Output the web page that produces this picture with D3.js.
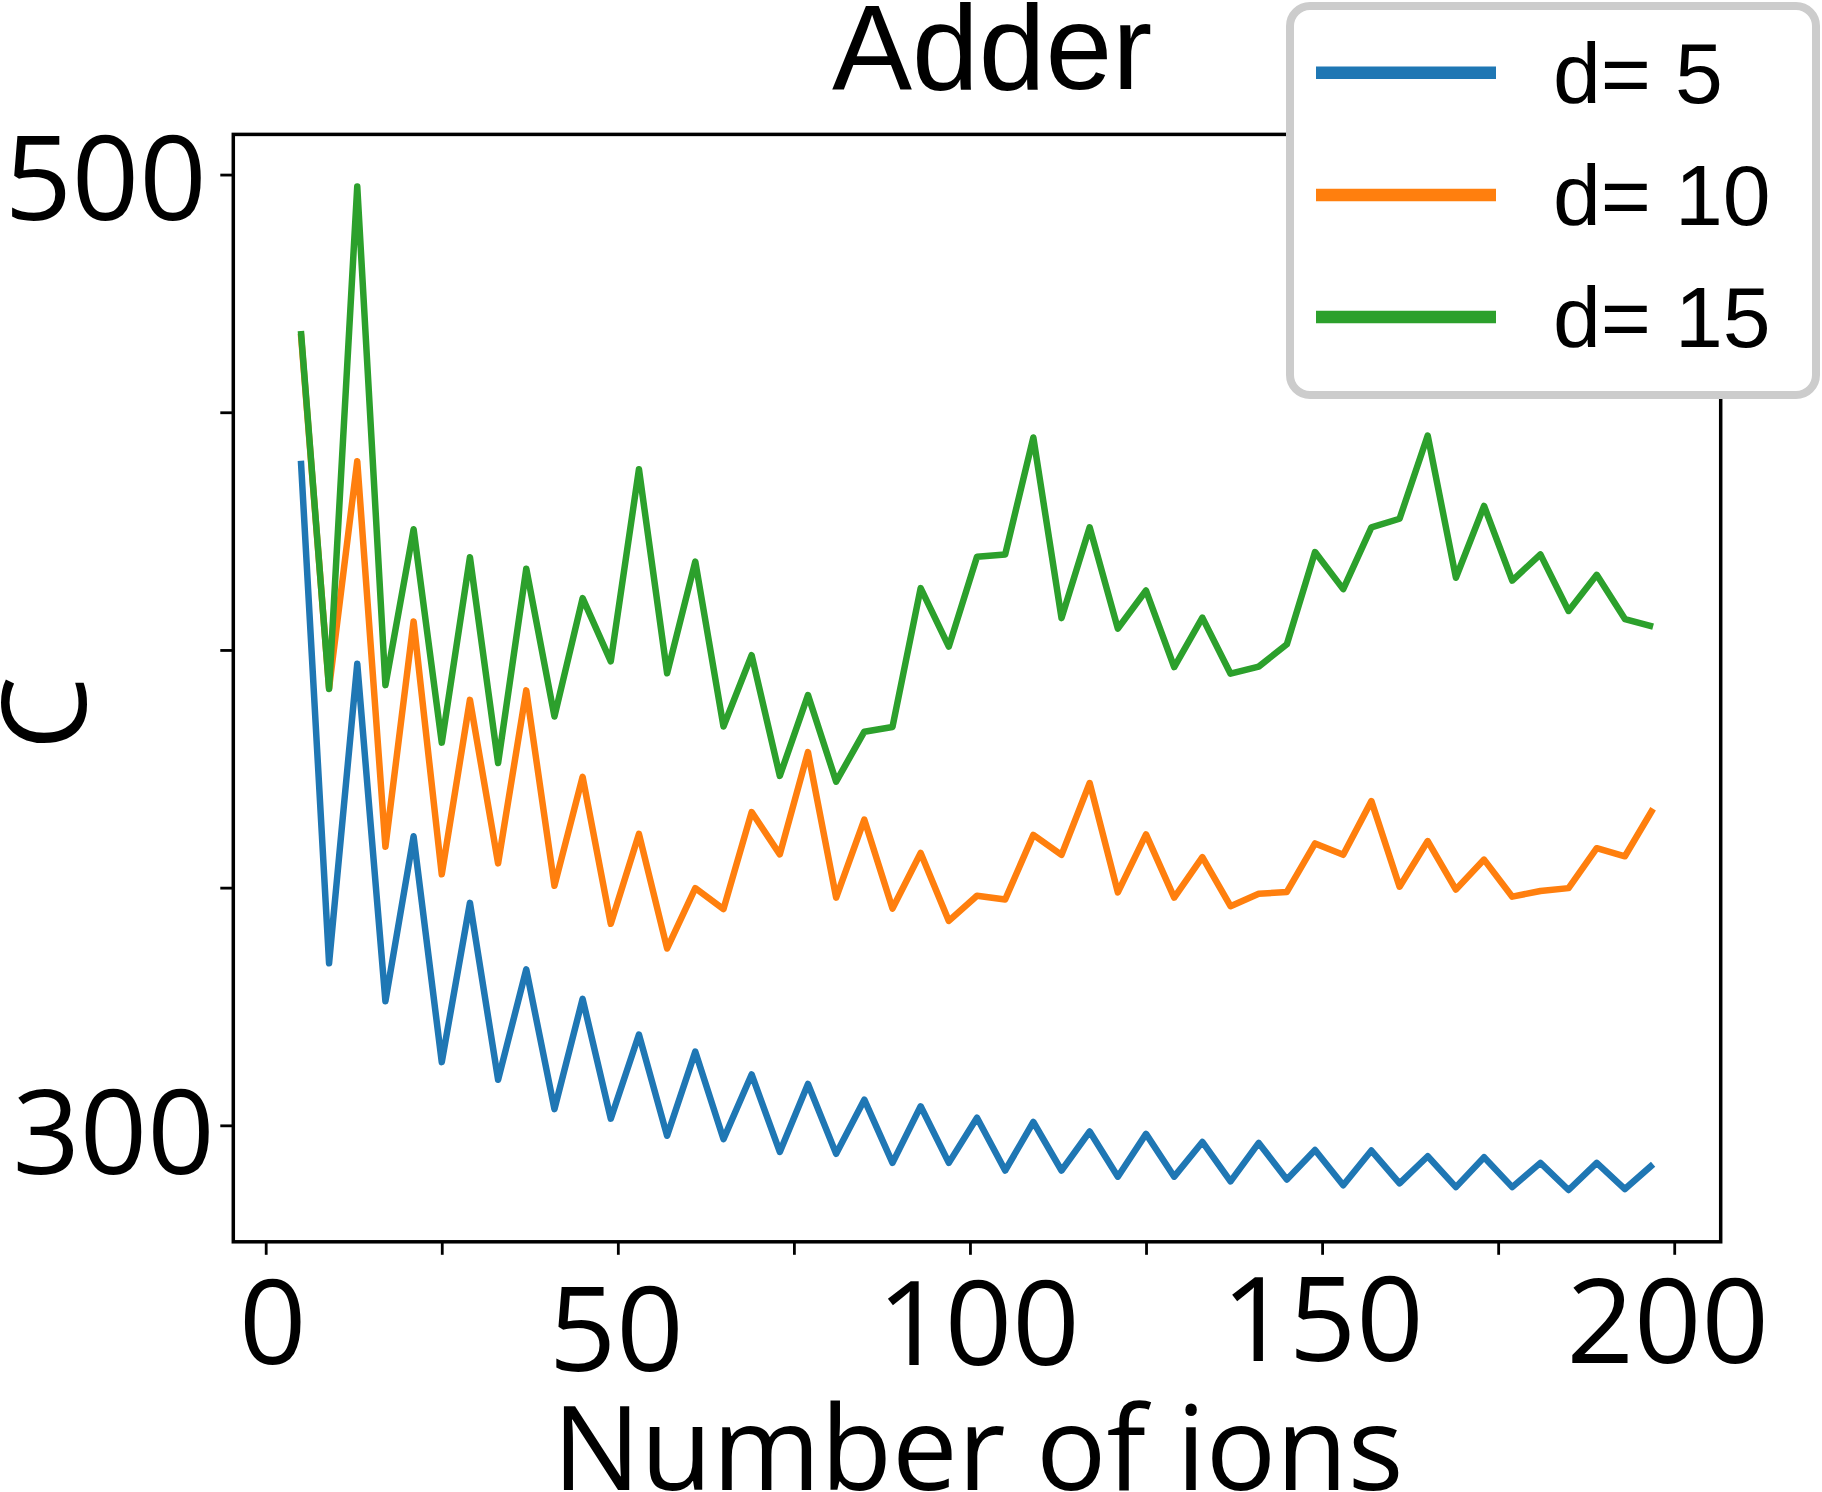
<!DOCTYPE html>
<html><head><meta charset="utf-8">
<script src="https://cdn.jsdelivr.net/npm/d3@7"></script>
<style>html,body{margin:0;padding:0;background:#fff;} svg{display:block;}</style>
</head><body>
<svg id="chart" width="1822" height="1492"></svg>
<script>
// ---------------- data ----------------
const nIons = [5, 9, 13, 17, 21, 25, 29, 33, 37, 41, 45, 49, 53, 57, 61, 65, 69, 73, 77, 81,
  85, 89, 93, 97, 101, 105, 109, 113, 117, 121, 125, 129, 133, 137, 141, 145, 149, 153, 157, 161,
  165, 169, 173, 177, 181, 185, 189, 193, 197];
const seriesNames = ["d= 5", "d= 10", "d= 15"];
const costD5 = [439.8, 334.1, 397.1, 326.1, 360.8, 313.3, 346.8, 309.6, 332.8, 303.4,
  326.6, 301.4, 319.1, 297.8, 315.5, 297.1, 310.7, 294.4, 308.7, 294.0,
  305.4, 292.1, 304.0, 292.1, 301.6, 290.5, 300.7, 290.5, 298.7, 289.2,
  298.2, 289.2, 296.5, 288.2, 296.3, 288.6, 294.8, 287.4, 294.7, 287.8,
  293.5, 287.0, 293.3, 287.0, 292.1, 286.4, 292.1, 286.6, 291.8];
const costD10 = [466.5, 392.0, 439.7, 358.6, 406.0, 352.8, 389.5, 355.1, 391.5, 350.4,
  373.3, 342.4, 361.3, 337.2, 349.9, 345.5, 365.9, 357.0, 378.5, 347.9,
  364.3, 345.6, 357.3, 343.0, 348.3, 347.5, 361.1, 356.9, 372.0, 349.0,
  361.2, 347.9, 356.4, 346.1, 348.7, 349.1, 359.3, 356.9, 368.2, 350.2,
  359.8, 349.6, 355.9, 348.1, 349.3, 349.9, 358.3, 356.6, 366.6];
const costD15 = [467.1, 391.8, 497.5, 392.6, 425.4, 380.5, 419.5, 376.2, 417.1, 386.0,
  410.9, 397.6, 438.0, 395.1, 418.6, 383.9, 398.9, 373.5, 390.5, 372.3,
  382.8, 383.8, 413.0, 400.7, 419.6, 420.1, 444.7, 406.7, 425.8, 404.5,
  412.5, 396.4, 406.8, 395.0, 396.5, 401.2, 420.6, 412.8, 425.8, 427.6,
  445.1, 415.2, 430.3, 414.6, 420.1, 408.2, 415.8, 406.5, 404.9];
const xTickValues = [0, 25, 50, 75, 100, 125, 150, 175, 200];
const xTickLabels = ["0", "", "50", "", "100", "", "150", "", "200"];
const yTickValues = [300, 350, 400, 450, 500];
const yTickLabels = ["300", "", "", "", "500"];
const titleText = "Adder";
const xLabelText = "Number of ions";
const yLabelText = "C";

// ---------------- layout / style ----------------
const colors = ["#1f77b4", "#ff7f0e", "#2ca02c"];
const frame = {left: 233.3, right: 1720.7, top: 134.4, bottom: 1241.8};
const yDomain = [275.5, 508.45];
const xLabelNudge = [[6.5, 122.2], [0, 0], [-2, 129], [0, 0], [8, 122.7], [0, 0], [0, 118.7], [0, 0], [-7, 121.2]];
const yLabelNudge = [[-18.5, 48.5], [0, 0], [0, 0], [0, 0], [-26.5, 44.8]];

const series = [costD5, costD10, costD15].map((vals, i) => ({
  name: seriesNames[i], color: colors[i],
  points: nIons.map((n, j) => ({n: n, v: vals[j]}))
}));

const svg = d3.select("#chart");
svg.append("rect").attr("width", 1822).attr("height", 1492).attr("fill", "#fff");

const xExt = d3.extent(nIons);
const xPad = (xExt[1] - xExt[0]) * 0.05;
const x = d3.scaleLinear().domain([xExt[0] - xPad, xExt[1] + xPad]).range([frame.left, frame.right]);
const y = d3.scaleLinear().domain(yDomain).range([frame.bottom, frame.top]);

// lines
const line = d3.line().x(d => x(d.n)).y(d => y(d.v));
svg.append("g").selectAll("path").data(series).join("path")
  .attr("d", d => line(d.points))
  .attr("fill", "none")
  .attr("stroke", d => d.color)
  .attr("stroke-width", 6.5)
  .attr("stroke-linejoin", "round")
  .attr("stroke-linecap", "butt");

// axes
const gx = svg.append("g").attr("transform", `translate(0,${frame.bottom})`)
  .call(d3.axisBottom(x).tickValues(xTickValues).tickFormat((d, i) => xTickLabels[i]).tickSize(13).tickSizeOuter(0));
gx.select(".domain").remove();
gx.selectAll(".tick line").attr("stroke", "#000").attr("stroke-width", 2.8);
gx.selectAll(".tick text")
  .attr("font-family", "'Open Sans', sans-serif").attr("font-size", 118).attr("fill", "#000")
  .attr("dy", null)
  .attr("dx", (d, i) => xLabelNudge[i][0])
  .attr("y", (d, i) => xLabelNudge[i][1]);

const gy = svg.append("g").attr("transform", `translate(${frame.left},0)`)
  .call(d3.axisLeft(y).tickValues(yTickValues).tickFormat((d, i) => yTickLabels[i]).tickSize(13).tickSizeOuter(0));
gy.select(".domain").remove();
gy.selectAll(".tick line").attr("stroke", "#000").attr("stroke-width", 2.8);
gy.selectAll(".tick text")
  .attr("font-family", "'Open Sans', sans-serif").attr("font-size", 118).attr("fill", "#000")
  .attr("dy", null)
  .attr("x", (d, i) => yLabelNudge[i][0])
  .attr("y", (d, i) => yLabelNudge[i][1]);
svg.selectAll(".tick").attr("font-family", null).attr("font-size", null);
gx.attr("font-family", null).attr("font-size", null);
gy.attr("font-family", null).attr("font-size", null);

// frame
svg.append("rect")
  .attr("x", frame.left).attr("y", frame.top)
  .attr("width", frame.right - frame.left).attr("height", frame.bottom - frame.top)
  .attr("fill", "none").attr("stroke", "#000").attr("stroke-width", 3.5);

// title and axis labels
svg.append("text").text(titleText)
  .attr("x", 992).attr("y", 89)
  .attr("text-anchor", "middle")
  .attr("font-family", "'Liberation Sans', Arial, sans-serif").attr("font-size", 120).attr("fill", "#000");
svg.append("text").text(xLabelText)
  .attr("x", 978).attr("y", 1490)
  .attr("text-anchor", "middle")
  .attr("font-family", "'Open Sans', sans-serif").attr("font-size", 117).attr("fill", "#000");
svg.append("text").text(yLabelText)
  .attr("transform", "translate(86,713) rotate(-90)")
  .attr("text-anchor", "middle")
  .attr("font-family", "'Open Sans', sans-serif").attr("font-size", 118).attr("fill", "#000");

// legend
const lg = svg.append("g");
lg.append("rect")
  .attr("x", 1290).attr("y", 6).attr("width", 526).attr("height", 389)
  .attr("rx", 20).attr("ry", 20)
  .attr("fill", "#fff").attr("stroke", "#cccccc").attr("stroke-width", 8);
const items = lg.selectAll("g.item").data(series).join("g")
  .attr("class", "item")
  .attr("transform", (d, i) => `translate(0,${72.8 + i * 122.1})`);
items.append("line")
  .attr("x1", 1316).attr("x2", 1496).attr("y1", 0).attr("y2", 0)
  .attr("stroke", d => d.color).attr("stroke-width", 12.5);
items.append("text").text(d => d.name)
  .attr("x", 1553).attr("y", 30)
  .attr("font-family", "'Liberation Sans', Arial, sans-serif").attr("font-size", 86).attr("fill", "#000")
  .style("white-space", "pre");
</script>
</body></html>
